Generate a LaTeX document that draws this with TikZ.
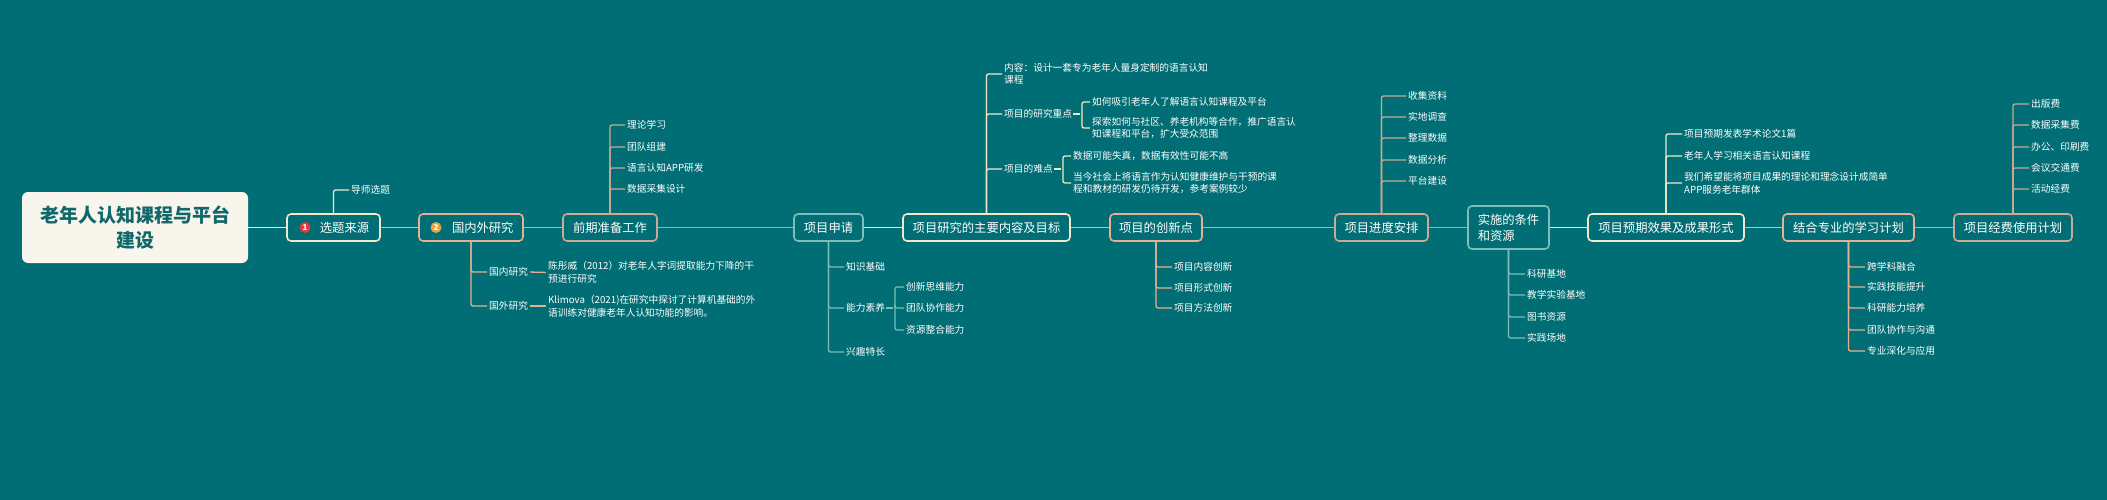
\documentclass[tikz,border=0pt]{standalone}
\usepackage{fontspec}
\setmainfont{Noto Sans CJK SC}
\definecolor{bg}{RGB}{0,110,116}
\definecolor{cream}{RGB}{240,232,200}
\definecolor{peach}{RGB}{232,176,146}
\definecolor{tanc}{RGB}{206,168,146}
\definecolor{tealc}{RGB}{124,190,186}
\definecolor{rootfill}{RGB}{248,246,236}
\definecolor{roottext}{RGB}{16,104,108}
\definecolor{badgered}{RGB}{232,56,60}
\definecolor{badgeorange}{RGB}{240,160,64}
\begin{document}
\begin{tikzpicture}[x=1pt,y=-1pt,
  mainbox/.style={draw, line width=1.6pt, rounded corners=4pt, fill=bg, text=white,
    font=\fontsize{12.3}{16}\selectfont, minimum height=27pt, inner sep=0pt, align=left},
  rootbox/.style={fill=rootfill, rounded corners=6pt, text=roottext, inner sep=0pt,
    font=\fontsize{19}{25}\selectfont\bfseries, align=center},
  leaf/.style={anchor=west, inner sep=0pt, text=white, font=\fontsize{9.7}{12.5}\selectfont, align=left},
  badge/.style={circle, inner sep=0pt, minimum size=11pt, text=white, font=\fontsize{8}{8}\selectfont\bfseries},
  link/.style={line width=1.6pt},
  twig/.style={line width=1.3pt, rounded corners=2pt, shorten >=2pt}]
\useasboundingbox (0,0) rectangle (2107,500);
\fill[bg] (0,0) rectangle (2107,500);

% main nodes
\node[rootbox, minimum width=226pt, minimum height=71pt] (root) at (135,227.5) {老年人认知课程与平台\\建设};
\node[mainbox, draw=cream, minimum width=93pt] (n1) at (333.5,227.5) {\hspace*{22pt}选题来源};
\node[badge, fill=badgered] (bd1) at (305,227.5) {1};
\node[mainbox, draw=peach, minimum width=104pt] (n2) at (471,227.5) {\hspace*{23.5pt}国内外研究};
\node[badge, fill=badgeorange] (bd2) at (436,227.5) {2};
\node[mainbox, draw=tanc, minimum width=94pt] (n3) at (610,227.5) {前期准备工作};
\node[mainbox, draw=tealc, minimum width=69pt] (n4) at (828.5,227.5) {项目申请};
\node[mainbox, draw=cream, minimum width=167pt] (n5) at (986.5,227.5) {项目研究的主要内容及目标};
\node[mainbox, draw=peach, minimum width=92pt] (n6) at (1156,227.5) {项目的创新点};
\node[mainbox, draw=tanc, minimum width=93pt] (n7) at (1381.5,227.5) {项目进度安排};
\node[mainbox, draw=tealc, minimum width=81pt, minimum height=43pt] (n8) at (1508.5,227.5) {实施的条件\\和资源};
\node[mainbox, draw=cream, minimum width=156pt] (n9) at (1666,227.5) {项目预期效果及成果形式};
\node[mainbox, draw=peach, minimum width=131pt] (n10) at (1848.5,227.5) {结合专业的学习计划};
\node[mainbox, draw=tanc, minimum width=118pt] (n11) at (2013,227.5) {项目经费使用计划};

% main links
\draw[link, cream] (root.east) -- (n1.west);
\draw[link, peach] (n1.east) -- (n2.west);
\draw[link, tanc] (n2.east) -- (n3.west);
\draw[link, tealc] (n3.east) -- (n4.west);
\draw[link, cream] (n4.east) -- (n5.west);
\draw[link, peach] (n5.east) -- (n6.west);
\draw[link, tanc] (n6.east) -- (n7.west);
\draw[link, tealc] (n7.east) -- (n8.west);
\draw[link, cream] (n8.east) -- (n9.west);
\draw[link, peach] (n9.east) -- (n10.west);
\draw[link, tanc] (n10.east) -- (n11.west);

% n1
\node[leaf] (a1) at (351,190) {导师选题};
\draw[twig, cream] (n1.north) |- (a1.west);

% n2
\node[leaf] (g1) at (489,272) {国内研究};
\node[leaf] (g2) at (489,306) {国外研究};
\node[leaf] (g1t) at (548,272.5) {陈彤威（2012）对老年人字词提取能力下降的干\\预进行研究};
\node[leaf] (g2t) at (548,306) {Klimova（2021)在研究中探讨了计算机基础的外\\语训练对健康老年人认知功能的影响。};
\draw[twig, peach] (n2.south) |- (g1.west);
\draw[twig, peach] (n2.south) |- (g2.west);
\draw[twig, peach, shorten <=2pt] (g1.east) -- (g1t.west);
\draw[twig, peach, shorten <=2pt] (g2.east) -- (g2t.west);

% n3
\node[leaf] (p1) at (627,125) {理论学习};
\node[leaf] (p2) at (627,147) {团队组建};
\node[leaf] (p3) at (627,168) {语言认知APP研发};
\node[leaf] (p4) at (627,189) {数据采集设计};
\foreach \i in {1,...,4} \draw[twig, tanc] (n3.north) |- (p\i.west);

% n4
\node[leaf] (b1) at (846,267) {知识基础};
\node[leaf] (b2) at (846,308) {能力素养};
\node[leaf] (b3) at (846,352) {兴趣特长};
\foreach \i in {1,...,3} \draw[twig, tealc] (n4.south) |- (b\i.west);
\node[leaf] (c1) at (906,287) {创新思维能力};
\node[leaf] (c2) at (906,308) {团队协作能力};
\node[leaf] (c3) at (906,330) {资源整合能力};
\coordinate (b2j) at (895,308);
\draw[twig, tealc, shorten <=1pt] (b2.east) -- (b2j);
\foreach \i in {1,...,3} \draw[twig, tealc] (b2j) |- (c\i.west);

% n5
\node[leaf] (k1) at (1004,74) {内容：设计一套专为老年人量身定制的语言认知\\课程};
\node[leaf] (k2) at (1004,114) {项目的研究重点};
\node[leaf] (k3) at (1004,169) {项目的难点};
\foreach \i in {1,...,3} \draw[twig, cream] (n5.north) |- (k\i.west);
\node[leaf] (k2a) at (1092,102) {如何吸引老年人了解语言认知课程及平台};
\node[leaf] (k2b) at (1092,128) {探索如何与社区、养老机构等合作，推广语言认\\知课程和平台，扩大受众范围};
\coordinate (k2j) at (1082,114);
\draw[twig, cream, shorten <=1pt] (k2.east) -- (k2j);
\draw[twig, cream] (k2j) |- (k2a.west);
\draw[twig, cream] (k2j) |- (k2b.west);
\node[leaf] (k3a) at (1073,156) {数据可能失真，数据有效性可能不高};
\node[leaf] (k3b) at (1073,183) {当今社会上将语言作为认知健康维护与干预的课\\程和教材的研发仍待开发，参考案例较少};
\coordinate (k3j) at (1063,169);
\draw[twig, cream, shorten <=1pt] (k3.east) -- (k3j);
\draw[twig, cream] (k3j) |- (k3a.west);
\draw[twig, cream] (k3j) |- (k3b.west);

% n6
\node[leaf] (i1) at (1174,267) {项目内容创新};
\node[leaf] (i2) at (1174,288) {项目形式创新};
\node[leaf] (i3) at (1174,308) {项目方法创新};
\foreach \i in {1,...,3} \draw[twig, peach] (n6.south) |- (i\i.west);

% n7
\node[leaf] (s1) at (1408,96) {收集资料};
\node[leaf] (s2) at (1408,117) {实地调查};
\node[leaf] (s3) at (1408,138) {整理数据};
\node[leaf] (s4) at (1408,160) {数据分析};
\node[leaf] (s5) at (1408,181) {平台建设};
\foreach \i in {1,...,5} \draw[twig, tanc] (n7.north) |- (s\i.west);

% n8
\node[leaf] (r1) at (1527,274) {科研基地};
\node[leaf] (r2) at (1527,295) {教学实验基地};
\node[leaf] (r3) at (1527,317) {图书资源};
\node[leaf] (r4) at (1527,338) {实践场地};
\foreach \i in {1,...,4} \draw[twig, tealc] (n8.south) |- (r\i.west);

% n9
\node[leaf] (e1) at (1684,134) {项目预期发表学术论文1篇};
\node[leaf] (e2) at (1684,156) {老年人学习相关语言认知课程};
\node[leaf] (e3) at (1684,183) {我们希望能将项目成果的理论和理念设计成简单\\APP服务老年群体};
\foreach \i in {1,...,3} \draw[twig, cream] (n9.north) |- (e\i.west);

% n10
\node[leaf] (m1) at (1867,267) {跨学科融合};
\node[leaf] (m2) at (1867,287) {实践技能提升};
\node[leaf] (m3) at (1867,308) {科研能力培养};
\node[leaf] (m4) at (1867,330) {团队协作与沟通};
\node[leaf] (m5) at (1867,351) {专业深化与应用};
\foreach \i in {1,...,5} \draw[twig, peach] (n10.south) |- (m\i.west);

% n11
\node[leaf] (f1) at (2031,104) {出版费};
\node[leaf] (f2) at (2031,125) {数据采集费};
\node[leaf] (f3) at (2031,147) {办公、印刷费};
\node[leaf] (f4) at (2031,168) {会议交通费};
\node[leaf] (f5) at (2031,189) {活动经费};
\foreach \i in {1,...,5} \draw[twig, tanc] (n11.north) |- (f\i.west);
\end{tikzpicture}
\end{document}
